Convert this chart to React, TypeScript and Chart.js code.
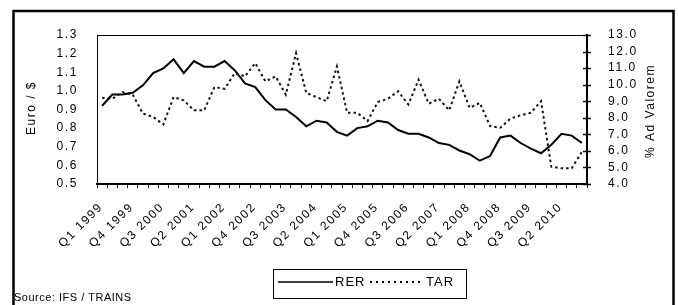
import React, { useEffect, useRef } from 'react';
import { Chart, registerables } from 'chart.js';

Chart.register(...registerables);

const quarters = [
  'Q1 1999', 'Q2 1999', 'Q3 1999', 'Q4 1999',
  'Q1 2000', 'Q2 2000', 'Q3 2000', 'Q4 2000',
  'Q1 2001', 'Q2 2001', 'Q3 2001', 'Q4 2001',
  'Q1 2002', 'Q2 2002', 'Q3 2002', 'Q4 2002',
  'Q1 2003', 'Q2 2003', 'Q3 2003', 'Q4 2003',
  'Q1 2004', 'Q2 2004', 'Q3 2004', 'Q4 2004',
  'Q1 2005', 'Q2 2005', 'Q3 2005', 'Q4 2005',
  'Q1 2006', 'Q2 2006', 'Q3 2006', 'Q4 2006',
  'Q1 2007', 'Q2 2007', 'Q3 2007', 'Q4 2007',
  'Q1 2008', 'Q2 2008', 'Q3 2008', 'Q4 2008',
  'Q1 2009', 'Q2 2009', 'Q3 2009', 'Q4 2009',
  'Q1 2010', 'Q2 2010', 'Q3 2010', 'Q4 2010',
];

// Real exchange rate, Euro / $ (left axis)
const rer = [
  0.92, 0.98, 0.98, 0.99, 1.03, 1.095, 1.12, 1.17,
  1.095, 1.16, 1.13, 1.13, 1.16, 1.11, 1.04, 1.02,
  0.95, 0.90, 0.90, 0.86, 0.81, 0.84, 0.83, 0.78,
  0.76, 0.80, 0.81, 0.84, 0.83, 0.79, 0.77, 0.77,
  0.75, 0.72, 0.71, 0.68, 0.66, 0.625, 0.65, 0.75,
  0.76, 0.72, 0.69, 0.665, 0.71, 0.77, 0.76, 0.72,
];

// Tariff, % ad valorem (right axis)
const tar = [
  9.2, 9.15, 9.55, 9.4, 8.25, 8.05, 7.6, 9.25,
  9.05, 8.45, 8.45, 9.85, 9.75, 10.7, 10.5, 11.3,
  10.2, 10.5, 9.4, 11.9, 9.5, 9.25, 9.0, 11.1,
  8.3, 8.3, 7.8, 8.95, 9.15, 9.6, 8.8, 10.3,
  8.85, 9.15, 8.45, 10.2, 8.6, 8.9, 7.5, 7.4,
  7.95, 8.15, 8.3, 9.0, 5.05, 4.95, 4.95, 5.95,
];

const seriesNames = ['RER', 'TAR'];
const leftTitle = 'Euro / $';
const rightTitle = '% Ad Valorem';
const sourceText = 'Source: IFS / TRAINS';
const leftRange = { min: 0.5, max: 1.3, step: 0.1 };
const rightRange = { min: 4, max: 13, step: 1 };

const FONT = '"Liberation Sans", Arial, Helvetica, sans-serif';

const decorPlugin = {
  id: 'decor',
  beforeUpdate(chart: any) {
    chart.ctx.letterSpacing = '1.6px';
  },
  afterDraw(chart: any) {
    const ctx = chart.ctx;
    const area = chart.chartArea;
    const y1 = chart.scales.y1;
    ctx.save();
    ctx.strokeStyle = '#000';
    ctx.fillStyle = '#000';

    // top border of plot
    ctx.lineWidth = 1;
    ctx.beginPath();
    ctx.moveTo(area.left, area.top + 0.5);
    ctx.lineTo(area.right, area.top + 0.5);
    ctx.stroke();

    // right axis crossing ticks
    ctx.lineWidth = 1.5;
    for (let v = rightRange.min; v <= rightRange.max + 1e-9; v += rightRange.step) {
      const py = Math.round(y1.getPixelForValue(v)) + 0.5;
      ctx.beginPath();
      ctx.moveTo(area.right - 4, py);
      ctx.lineTo(area.right + 4, py);
      ctx.stroke();
    }

    // axis titles
    ctx.font = `12px ${FONT}`;
    ctx.letterSpacing = '1.5px';
    ctx.textAlign = 'center';
    ctx.textBaseline = 'middle';
    ctx.save();
    ctx.translate(32, 108);
    ctx.rotate(-Math.PI / 2);
    ctx.fillText(leftTitle, 0, 0);
    ctx.restore();
    ctx.save();
    ctx.translate(651, 111);
    ctx.rotate(-Math.PI / 2);
    ctx.fillText(rightTitle, 0, 0);
    ctx.restore();

    // legend
    ctx.lineWidth = 1;
    ctx.strokeRect(273.5, 269.5, 193, 29);
    ctx.lineWidth = 1.5;
    ctx.beginPath();
    ctx.moveTo(278, 282);
    ctx.lineTo(333, 282);
    ctx.stroke();
    ctx.lineWidth = 2;
    ctx.setLineDash([2, 4]);
    ctx.beginPath();
    ctx.moveTo(370, 282);
    ctx.lineTo(421, 282);
    ctx.stroke();
    ctx.setLineDash([]);
    ctx.font = `13px ${FONT}`;
    ctx.letterSpacing = '1px';
    ctx.textAlign = 'left';
    ctx.fillText(seriesNames[0], 335, 282);
    ctx.fillText(seriesNames[1], 426, 282);

    // source
    ctx.font = `11px ${FONT}`;
    ctx.letterSpacing = '0.5px';
    ctx.textBaseline = 'alphabetic';
    ctx.fillText(sourceText, 14, 301);

    // outer frame
    ctx.lineWidth = 2.5;
    ctx.strokeRect(13.5, 11, 660, 400);
    ctx.restore();
  },
};

export default function App() {
  const canvasRef = useRef<HTMLCanvasElement | null>(null);

  useEffect(() => {
    if (!canvasRef.current) return;
    const chart = new Chart(canvasRef.current, {
      type: 'line',
      data: {
        labels: quarters,
        datasets: [
          {
            label: seriesNames[0],
            data: rer,
            yAxisID: 'y',
            borderColor: '#000',
            borderWidth: 2,
            pointRadius: 0,
            tension: 0,
            fill: false,
          },
          {
            label: seriesNames[1],
            data: tar,
            yAxisID: 'y1',
            borderColor: '#111',
            borderWidth: 2,
            borderDash: [2.5, 3],
            pointRadius: 0,
            tension: 0,
            fill: false,
          },
        ],
      },
      options: {
        responsive: false,
        animation: false,
        layout: { padding: { top: 35, left: 0, right: 0, bottom: 0 } },
        plugins: { legend: { display: false }, tooltip: { enabled: false } },
        scales: {
          x: {
            type: 'category',
            offset: true,
            grid: {
              display: true,
              offset: true,
              drawOnChartArea: false,
              drawTicks: true,
              tickLength: 4,
              color: '#000',
              lineWidth: 1,
            },
            border: { display: true, color: '#000', width: 2 },
            ticks: {
              autoSkip: false,
              maxRotation: 45,
              minRotation: 45,
              padding: 12,
              labelOffset: -1,
              color: '#000',
              font: { family: FONT, size: 12 },
              callback: (_v: any, i: number) => (i % 3 === 0 ? quarters[i] : ''),
            },
            afterFit: (s: any) => {
              s.height = 121;
            },
          },
          y: {
            position: 'left',
            min: leftRange.min,
            max: leftRange.max,
            grid: { display: false },
            border: { display: true, color: '#000', width: 1 },
            ticks: {
              autoSkip: false,
              stepSize: leftRange.step,
              padding: 11,
              color: '#000',
              font: { family: FONT, size: 12 },
              callback: (v: any) => Number(v).toFixed(1),
            },
            afterFit: (s: any) => {
              s.width = 97;
            },
          },
          y1: {
            position: 'right',
            min: rightRange.min,
            max: rightRange.max,
            grid: { display: false },
            border: { display: true, color: '#000', width: 2 },
            ticks: {
              autoSkip: false,
              stepSize: rightRange.step,
              padding: 13,
              color: '#000',
              font: { family: FONT, size: 12 },
              callback: (v: any) => Number(v).toFixed(1),
            },
            afterFit: (s: any) => {
              s.width = 91;
            },
          },
        },
      },
      plugins: [decorPlugin],
    });
    return () => chart.destroy();
  }, []);

  return (
    <div style={{ position: 'absolute', left: 0, top: 0, width: 678, height: 305, background: '#fff' }}>
      <canvas ref={canvasRef} width={678} height={305} style={{ display: 'block', width: 678, height: 305 }} />
    </div>
  );
}
